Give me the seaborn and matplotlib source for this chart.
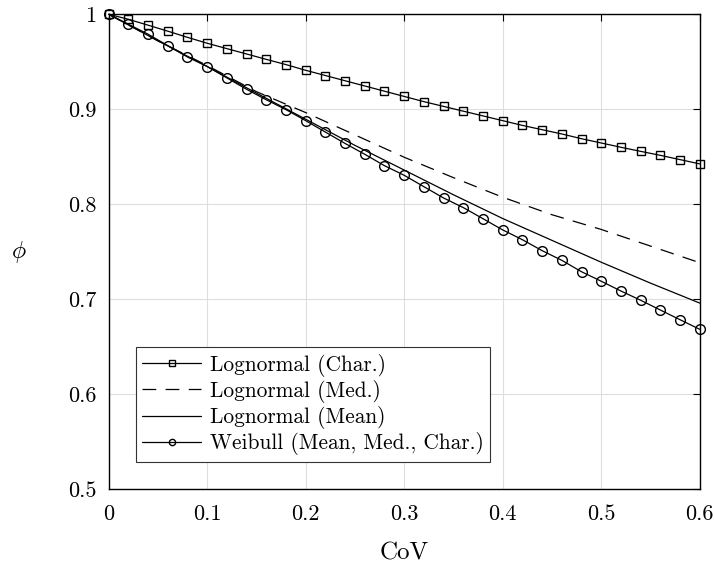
import numpy as np
import pandas as pd
import matplotlib
matplotlib.use("Agg")
import matplotlib.pyplot as plt
import seaborn as sns

# ---- data ----
cov_fine = [0.00, 0.02, 0.04, 0.06, 0.08, 0.10, 0.12, 0.14, 0.16, 0.18, 0.20,
            0.22, 0.24, 0.26, 0.28, 0.30, 0.32, 0.34, 0.36, 0.38, 0.40,
            0.42, 0.44, 0.46, 0.48, 0.50, 0.52, 0.54, 0.56, 0.58, 0.60]
lognormal_char = [1.0, 0.9947, 0.9885, 0.9822, 0.9757, 0.9695, 0.9638, 0.9582, 0.9525, 0.947, 0.941,
                  0.9355, 0.930, 0.9245, 0.919, 0.9135, 0.908, 0.903, 0.898, 0.893, 0.888,
                  0.883, 0.8785, 0.874, 0.869, 0.8645, 0.860, 0.8557, 0.8515, 0.847, 0.8425]
weibull = [1.0, 0.9895, 0.979, 0.967, 0.955, 0.945, 0.933, 0.921, 0.910, 0.8996, 0.888,
           0.876, 0.864, 0.8526, 0.8406, 0.8305, 0.8185, 0.8066, 0.7965, 0.7848, 0.773,
           0.7627, 0.7512, 0.741, 0.729, 0.719, 0.7087, 0.699, 0.6887, 0.6785, 0.6684]
cov_coarse = [0.00, 0.05, 0.10, 0.15, 0.20, 0.25, 0.30, 0.35, 0.40, 0.45, 0.50, 0.55, 0.60]
lognormal_med = [1.0, 0.972, 0.946, 0.9185, 0.8965, 0.873, 0.8495, 0.828, 0.8074, 0.789, 0.7735, 0.756, 0.7385]
lognormal_mean = [1.0, 0.972, 0.945, 0.917, 0.8895, 0.862, 0.836, 0.810, 0.785, 0.762, 0.739, 0.717, 0.696]

series_labels = ["Lognormal (Char.)", "Lognormal (Med.)", "Lognormal (Mean)", "Weibull (Mean, Med., Char.)"]
x_ticks = [0, 0.1, 0.2, 0.3, 0.4, 0.5, 0.6]
x_ticklabels = ["0", "0.1", "0.2", "0.3", "0.4", "0.5", "0.6"]
y_ticks = [0.5, 0.6, 0.7, 0.8, 0.9, 1.0]
y_ticklabels = ["0.5", "0.6", "0.7", "0.8", "0.9", "1"]

sns.set_theme(style="white")
plt.rcParams["font.family"] = ["cmr10", "DejaVu Serif"]
plt.rcParams["mathtext.fontset"] = "cm"
plt.rcParams["axes.unicode_minus"] = False
plt.rcParams["text.color"] = "black"
plt.rcParams["axes.labelcolor"] = "black"

fig = plt.figure(figsize=(7.14, 5.70), dpi=100)
ax = fig.add_axes([0.1522, 0.1416, 0.98 - 0.1522, 0.975 - 0.1416])

lw = 0.9
sns.lineplot(x=cov_fine, y=lognormal_char, ax=ax, color="black", lw=lw, marker="s",
             markersize=5.5, markerfacecolor="none", markeredgecolor="black",
             markeredgewidth=1.0, label=series_labels[0], clip_on=False)
sns.lineplot(x=cov_coarse, y=lognormal_med, ax=ax, color="black", lw=lw,
             dashes=False, linestyle=(0, (11, 7.5)), label=series_labels[1])
sns.lineplot(x=cov_coarse, y=lognormal_mean, ax=ax, color="black", lw=lw,
             label=series_labels[2])
sns.lineplot(x=cov_fine, y=weibull, ax=ax, color="black", lw=lw, marker="o",
             markersize=7, markerfacecolor="none", markeredgecolor="black",
             markeredgewidth=1.0, label=series_labels[3], clip_on=False)

ax.set_xlim(0, 0.6)
ax.set_ylim(0.5, 1.0)
ax.set_xticks(x_ticks)
ax.set_xticklabels(x_ticklabels)
ax.set_yticks(y_ticks)
ax.set_yticklabels(y_ticklabels)
ax.grid(True, color="#dedede", linewidth=0.8)
ax.set_axisbelow(True)
for s in ax.spines.values():
    s.set_color("black")
    s.set_linewidth(1.0)
ax.tick_params(direction="in", top=True, right=True, length=5, width=0.8,
               labelsize=16, colors="black")
ax.tick_params(axis="x", pad=11)
ax.tick_params(axis="y", pad=9)

ax.set_xlabel("CoV", fontsize=18, va="center", color="black")
ax.xaxis.set_label_coords(0.5, -0.134)
ax.set_ylabel(r"$\phi$", fontsize=17, rotation=0, va="center", ha="center", color="black")
ax.yaxis.set_label_coords(-0.152, 0.5)

leg = ax.legend(loc="lower left", bbox_to_anchor=(0.046, 0.058), fontsize=15.4,
                frameon=True, fancybox=False, edgecolor="#333333", framealpha=1,
                handlelength=2.75, handletextpad=0.42, borderpad=0.3,
                labelspacing=0.15, numpoints=1, borderaxespad=0, labelcolor="black")
leg.get_frame().set_linewidth(0.8)
for h in leg.legend_handles:
    try:
        h.set_markersize(4.5)
    except AttributeError:
        pass

fig.savefig("out.png", dpi=100)
